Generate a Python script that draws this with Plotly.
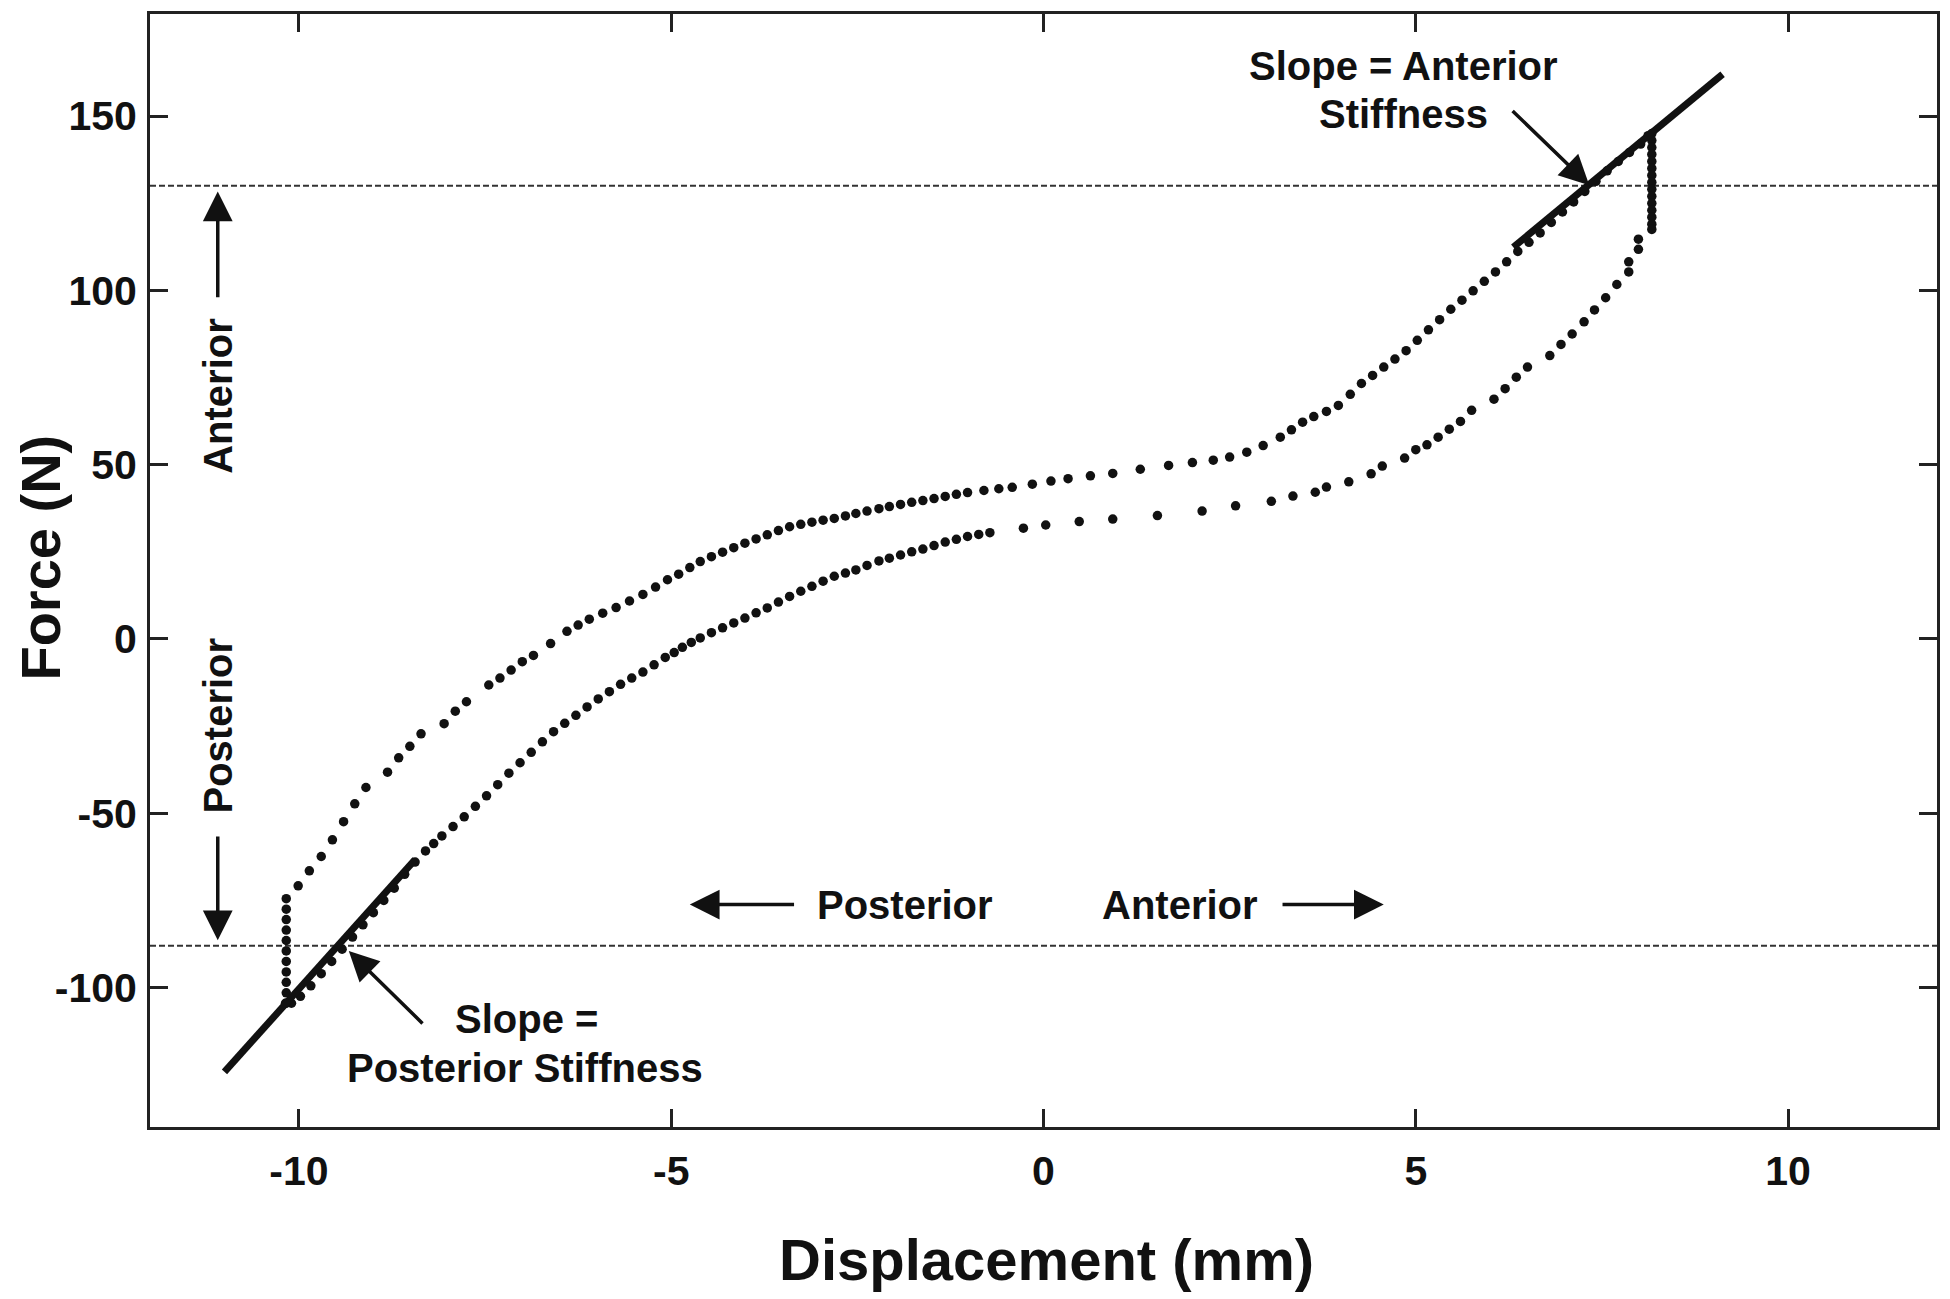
import plotly.graph_objects as go

# ---------------- data (displacement in mm, force in N) ----------------
# Branch 1: from maximum posterior load, through zero, to maximum anterior load (upper curve)
load_x = [-10.17, -10.17, -10.17, -10.17, -10.17, -10.17, -10.17, -10.17, -10.17, -10.17, -10.17,
          -10.01, -9.86, -9.70, -9.55, -9.40, -9.25, -9.10, -8.81, -8.66, -8.51, -8.36, -8.05, -7.90,
          -7.75, -7.45, -7.30, -7.15, -7.00, -6.85, -6.62, -6.40, -6.25, -6.10, -5.92, -5.74, -5.56,
          -5.38, -5.21, -5.05, -4.90, -4.75, -4.61, -4.46, -4.31, -4.16, -4.01, -3.86, -3.71, -3.56,
          -3.41, -3.26, -3.11, -2.96, -2.81, -2.66, -2.52, -2.37, -2.21, -2.07, -1.92, -1.77, -1.62,
          -1.47, -1.32, -1.17, -1.02, -0.80, -0.60, -0.42, -0.15, 0.10, 0.33, 0.63, 0.93, 1.30, 1.68,
          2.00, 2.28, 2.50, 2.73, 2.95, 3.18, 3.33, 3.48, 3.63, 3.80, 3.96, 4.12, 4.27, 4.42, 4.57,
          4.72, 4.87, 5.02, 5.17, 5.32, 5.47, 5.62, 5.77, 5.92, 6.07, 6.22, 6.37, 6.52, 6.67, 6.82,
          6.97, 7.12, 7.27, 7.42, 7.57, 7.72, 7.87, 8.02, 8.12]
load_f = [-104.5, -101.5, -98.5, -95.5, -92.5, -89.5, -86.5, -83.5, -80.5, -77.5, -74.5,
          -70.8, -66.5, -62.4, -57.6, -52.4, -47.3, -42.6, -38.2, -34.1, -30.8, -27.2, -24.3, -20.7,
          -18.0, -13.2, -11.2, -8.9, -6.5, -4.7, -1.3, 2.2, 4.0, 5.7, 7.4, 9.0, 10.9,
          12.8, 14.9, 17.0, 18.6, 20.5, 22.2, 23.6, 24.9, 26.2, 27.5, 28.7, 29.9, 31.1,
          32.2, 32.9, 33.5, 34.1, 34.6, 35.3, 36.0, 36.7, 37.4, 38.0, 38.6, 39.2, 39.7,
          40.3, 40.9, 41.5, 42.0, 42.6, 43.1, 43.5, 44.4, 45.3, 46.0, 46.8, 47.5, 48.7, 49.8,
          50.6, 51.3, 52.2, 53.6, 55.5, 57.9, 60.0, 62.2, 63.8, 65.3, 67.0, 70.2, 73.3, 75.6, 78.0,
          80.3, 82.7, 85.7, 88.7, 91.6, 94.6, 97.2, 99.9, 102.6, 105.3, 108.2, 111.2, 113.8, 116.5, 119.5,
          122.5, 125.4, 128.4, 131.3, 134.3, 137.0, 139.6, 142.0, 144.4]

# Branch 2: from maximum anterior load back to maximum posterior load (lower curve)
unload_x = [8.17, 8.17, 8.17, 8.17, 8.17, 8.17, 8.17, 8.17, 8.17, 8.17, 8.17, 8.17, 8.17, 8.17, 8.17,
            7.99, 7.99, 7.86, 7.86, 7.70, 7.55, 7.40, 7.26, 7.10, 6.95, 6.80, 6.50, 6.35, 6.20, 6.05,
            5.75, 5.60, 5.45, 5.30, 5.15, 5.00, 4.85, 4.55, 4.40, 4.10, 3.80, 3.65, 3.35, 3.06, 2.58,
            2.13, 1.53, 0.93, 0.48, 0.03, -0.27, -0.72, -0.87, -1.02, -1.17, -1.32, -1.47, -1.62, -1.77,
            -1.92, -2.07, -2.21, -2.37, -2.52, -2.66, -2.81, -2.96, -3.11, -3.26, -3.41, -3.56, -3.71,
            -3.86, -4.01, -4.16, -4.31, -4.46, -4.61, -4.73, -4.85, -4.96, -5.08, -5.23, -5.38, -5.53,
            -5.68, -5.83, -5.98, -6.13, -6.28, -6.43, -6.58, -6.73, -6.88, -7.03, -7.18, -7.33, -7.48,
            -7.63, -7.78, -7.93, -8.08, -8.19, -8.30, -8.44, -8.58, -8.72, -8.86, -9.00, -9.14, -9.28,
            -9.42, -9.56, -9.70, -9.84, -9.98, -10.10, -10.18]
unload_f = [145, 143, 141, 139, 137, 135, 133, 131, 129, 127, 125, 123, 121, 119, 117.5,
            114.7, 111.8, 108.2, 105.3, 101.7, 97.9, 94.4, 91.0, 87.5, 84.5, 81.3, 78.0, 75.1, 71.8, 68.8,
            65.6, 62.4, 60.2, 57.9, 55.7, 54.3, 51.9, 49.6, 47.4, 45.1, 43.6, 42.1, 41.0, 39.5, 38.2,
            36.7, 35.4, 34.4, 33.7, 32.7, 31.8, 30.5, 30.0, 29.4, 28.6, 27.8, 26.8, 25.8, 25.0,
            24.1, 23.2, 22.4, 21.1, 19.8, 18.9, 18.0, 16.6, 15.1, 13.7, 12.2, 10.6, 8.9,
            7.5, 6.0, 4.6, 3.2, 1.8, 0.3, -1.0, -2.4, -3.9, -5.3, -7.4, -9.5, -11.2,
            -13.0, -15.1, -17.2, -19.5, -21.9, -24.2, -26.6, -29.5, -32.5, -35.5, -38.5, -41.8, -45.0,
            -48.0, -51.0, -53.8, -56.5, -58.7, -60.8, -64.0, -67.5, -71.5, -75.0, -78.5, -82.0, -85.5,
            -89.0, -92.5, -96.0, -99.5, -102.5, -104.5, -104.5]

# Linear fits (stiffness lines)
post_fit_x = [-11.0, -8.44]
post_fit_f = [-124.2, -63.3]
ant_fit_x = [6.31, 9.12]
ant_fit_f = [112.4, 162.0]

# Force thresholds (dashed lines)
anterior_limit = 130
posterior_limit = -88

x_tickvals = [-10, -5, 0, 5, 10]
x_ticktext = ["-10", "-5", "0", "5", "10"]
y_tickvals = [-100, -50, 0, 50, 100, 150]
y_ticktext = ["-100", "-50", "0", "50", "100", "150"]

# ---------------- styling ----------------
INK = "#111111"
AX = "#222222"
FAM = "Liberation Sans, Arial, sans-serif"


def tfont(size):
    return dict(family=FAM, size=size, color=INK, weight="bold")


fig = go.Figure()

fig.add_trace(go.Scatter(x=load_x, y=load_f, mode="markers",
                         marker=dict(size=9.5, color=INK), showlegend=False, hoverinfo="skip"))
fig.add_trace(go.Scatter(x=unload_x, y=unload_f, mode="markers",
                         marker=dict(size=9.5, color=INK), showlegend=False, hoverinfo="skip"))
fig.add_trace(go.Scatter(x=post_fit_x, y=post_fit_f, mode="lines",
                         line=dict(color=INK, width=7), showlegend=False, hoverinfo="skip"))
fig.add_trace(go.Scatter(x=ant_fit_x, y=ant_fit_f, mode="lines",
                         line=dict(color=INK, width=7), showlegend=False, hoverinfo="skip"))

for yv in (anterior_limit, posterior_limit):
    fig.add_shape(type="line", xref="paper", x0=0, x1=1, yref="y", y0=yv, y1=yv,
                  line=dict(color="#333333", width=2, dash="6px,3px"), layer="below")

annotations = []


def text(x, y, s, angle=0, size=40):
    annotations.append(dict(x=x, y=y, xref="x", yref="y", text=s, showarrow=False,
                            textangle=angle, font=tfont(size), xanchor="center", yanchor="middle"))


def arrow(x0, y0, x1, y1):
    annotations.append(dict(x=x1, y=y1, ax=x0, ay=y0, xref="x", yref="y", axref="x", ayref="y",
                            text="", showarrow=True, arrowhead=2, arrowsize=1.7, arrowwidth=3.5,
                            arrowcolor=INK, standoff=0, startstandoff=0))


# vertical direction labels at left
text(-11.09, 69.7, "Anterior", angle=-90)
arrow(-11.09, 97.6, -11.09, 128.4)
text(-11.09, -24.9, "Posterior", angle=-90)
arrow(-11.09, -56.2, -11.09, -86.4)

# horizontal direction labels
text(-1.86, -76.2, "Posterior")
arrow(-3.33, -76.2, -4.75, -76.2)
text(1.83, -76.2, "Anterior")
arrow(3.19, -76.2, 4.57, -76.2)

# stiffness labels
text(4.83, 164.4, "Slope = Anterior")
text(4.83, 150.6, "Stiffness")
arrow(6.28, 151.9, 7.33, 130.2)
text(-6.95, -109.1, "Slope =")
text(-6.97, -123.0, "Posterior Stiffness")
arrow(-8.32, -110.7, -9.33, -89.5)

# axis titles
annotations.append(dict(x=0.5014, y=-0.1192, xref="paper", yref="paper", text="Displacement (mm)",
                        showarrow=False, font=tfont(58), xanchor="center", yanchor="middle"))
annotations.append(dict(x=-0.0615, y=0.5117, xref="paper", yref="paper", text="Force (N)",
                        showarrow=False, textangle=-90, font=tfont(56), xanchor="center", yanchor="middle"))

axis_common = dict(showgrid=False, zeroline=False, showline=True, linewidth=3, linecolor=AX,
                   mirror="ticks", ticks="inside", ticklen=18, tickwidth=2.5, tickcolor=AX,
                   tickfont=tfont(41))

# The page body adds an 8px offset; margins compensate so the plot box lands at
# x 150..1937, y 11..1127 in the window.
fig.update_layout(
    width=1950, height=1299,
    margin=dict(l=142, r=21, t=3, b=180),
    paper_bgcolor="white", plot_bgcolor="white",
    xaxis=dict(range=[-12, 12], tickmode="array", tickvals=x_tickvals, ticktext=x_ticktext,
               ticklabelstandoff=6, **axis_common),
    yaxis=dict(range=[-140, 179.3], tickmode="array", tickvals=y_tickvals, ticktext=y_ticktext,
               ticklabelstandoff=2, **axis_common),
    annotations=annotations,
    showlegend=False,
)

fig.write_html("out.html")
